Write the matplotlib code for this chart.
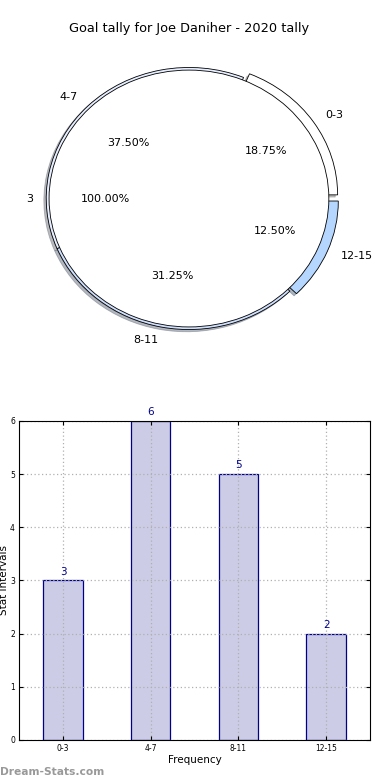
import matplotlib
matplotlib.use("Agg")
import matplotlib.pyplot as plt

# data
intervals = ["0-3", "4-7", "8-11", "12-15"]
tally = [3, 6, 5, 2]
total_label = ["3"]
total_value = [100]
title = "Goal tally for Joe Daniher - 2020 tally"

wedge_colors = ["#ffffff", "#e6eeff", "#cfe0ff", "#b5d6ff"]
bar_face = "#ccccE6"
bar_edge = "#00008b"

fig = plt.figure(figsize=(3.9, 7.8), dpi=100)

# pie on top
ax1 = fig.add_axes([0.027, 0.5355, 0.915, 0.42])
shade = dict(ox=-0.012, oy=-0.012, shade=0.5)
ax1.pie(tally, labels=intervals, colors=wedge_colors, explode=[0.05, 0, 0, 0.05],
        autopct="%.2f%%", shadow=shade, startangle=0,
        wedgeprops=dict(edgecolor="black", linewidth=0.6),
        textprops=dict(fontsize=8))
ax1.pie(total_value, labels=total_label, colors=["white"], radius=0.98,
        autopct="%.2f%%", shadow=shade, labeldistance=1.11,
        wedgeprops=dict(edgecolor="black", linewidth=0.6),
        textprops=dict(fontsize=8))
ax1.set_xlim(-1.25, 1.25)
ax1.set_ylim(-1.25, 1.25)
ax1.set_aspect("auto")
ax1.set_title(title, fontsize=9.3, pad=0)

# bars below
ax2 = fig.add_axes([0.049, 0.0513, 0.9, 0.409])
pos = range(len(intervals))
ax2.bar(pos, tally, width=0.45, color=bar_face, edgecolor=bar_edge, linewidth=0.9)
for p, v in zip(pos, tally):
    ax2.text(p, v + 0.07, str(v), ha="center", va="bottom", fontsize=7.5, color=bar_edge)
ax2.set_xlim(-0.5, 3.5)
ax2.set_ylim(0, 6)
ax2.set_xticks(list(pos))
ax2.set_xticklabels(intervals)
ax2.set_yticks(range(7))
ax2.tick_params(labelsize=5.5, direction="in", top=True, right=True, length=3, pad=3)
ax2.grid(True, linestyle=(0, (1, 2)), color="#b0b0b0", linewidth=0.9)
ax2.set_axisbelow(False)
for sp in ax2.spines.values():
    sp.set_zorder(5)
ax2.set_xlabel("Frequency", fontsize=7.5, labelpad=1)
ax2.set_ylabel("Stat Intervals", fontsize=7.5, labelpad=2)
ax2.yaxis.set_label_coords(-0.03, 0.5)

fig.text(0.0, 0.007, "Dream-Stats.com", fontsize=7.7, color="#999999", fontweight="bold")

fig.savefig("out.png", dpi=100)
